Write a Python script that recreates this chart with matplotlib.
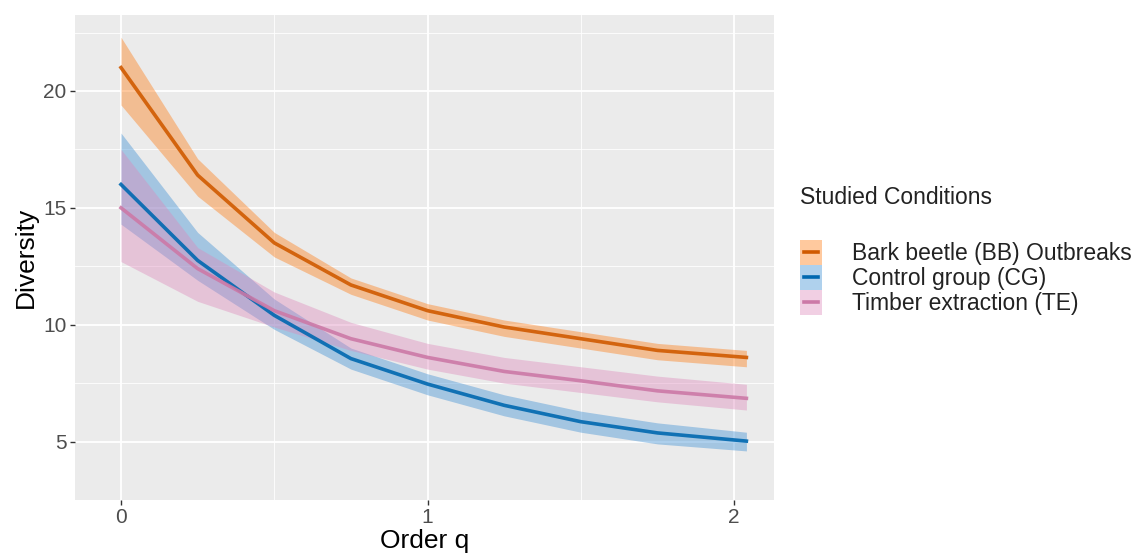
import matplotlib
matplotlib.use("Agg")
import matplotlib.pyplot as plt
from matplotlib.patches import Rectangle
from matplotlib.lines import Line2D
from matplotlib.legend_handler import HandlerBase

plt.rcParams['font.family'] = ['Liberation Sans', 'DejaVu Sans']

# ---- data ----
q = [0, 0.25, 0.5, 0.75, 1.0, 1.25, 1.5, 1.75, 2.04]

bb_mean = [21.0, 16.4, 13.5, 11.7, 10.6, 9.9, 9.4, 8.9, 8.6]
bb_low = [19.4, 15.5, 12.9, 11.3, 10.2, 9.5, 9.0, 8.5, 8.2]
bb_high = [22.3, 17.1, 13.95, 12.0, 10.9, 10.2, 9.7, 9.2, 8.9]

cg_mean = [16.0, 12.75, 10.4, 8.55, 7.46, 6.55, 5.85, 5.37, 5.02]
cg_low = [14.3, 11.9, 9.8, 8.1, 7.0, 6.1, 5.4, 4.9, 4.6]
cg_high = [18.2, 13.95, 11.1, 9.0, 7.9, 7.0, 6.3, 5.8, 5.4]

te_mean = [15.0, 12.4, 10.6, 9.4, 8.6, 8.0, 7.6, 7.17, 6.85]
te_low = [12.7, 11.0, 9.9, 8.9, 8.1, 7.5, 7.1, 6.7, 6.35]
te_high = [17.5, 13.3, 11.4, 10.1, 9.2, 8.6, 8.2, 7.8, 7.45]

labels = ["Bark beetle (BB) Outbreaks", "Control group (CG)", "Timber extraction (TE)"]
line_colors = ["#D05A00", "#0068B0", "#CC79A7"]
fill_colors = ["#FF780E", "#378CD4", "#DE87BB"]
fill_alpha = 0.4

x_ticks = [0, 1, 2]
y_ticks = [5, 10, 15, 20]


class RibbonKey:
    def __init__(self, fill, line):
        self.fill = fill
        self.line = line


class RibbonKeyHandler(HandlerBase):
    def create_artists(self, legend, orig_handle, xdescent, ydescent, width, height, fontsize, trans):
        rect = Rectangle((-xdescent, -ydescent - 1.5), width, height + 3, facecolor=orig_handle.fill,
                         alpha=fill_alpha, edgecolor='none', transform=trans)
        y = -ydescent + height / 2.0
        ln = Line2D([-xdescent + width * 0.18, -xdescent + width * 0.82], [y, y],
                    color=orig_handle.line, linewidth=2.6, transform=trans)
        return [rect, ln]


# ---- figure ----
fig = plt.figure(figsize=(11.42, 5.58), dpi=100)
ax = fig.add_axes([75 / 1142, 1 - 500 / 558, (774 - 75) / 1142, (500 - 15) / 558])
ax.set_facecolor("#EBEBEB")

series = [(bb_mean, bb_low, bb_high), (cg_mean, cg_low, cg_high), (te_mean, te_low, te_high)]
handles = []
for (m, lo, hi), fc in zip(series, fill_colors):
    ax.fill_between(q, lo, hi, color=fc, alpha=fill_alpha, linewidth=0, zorder=2)
for (m, lo, hi), lc, fc in zip(series, line_colors, fill_colors):
    ax.plot(q, m, color=lc, linewidth=2.6, alpha=0.9, zorder=3, solid_joinstyle='round')
    handles.append(RibbonKey(fc, lc))

ax.set_xlim(-0.15, 2.13)
ax.set_ylim(3.0, 23.25)
ax.set_xticks(x_ticks)
ax.set_yticks(y_ticks)
ax.set_xticks([0.5, 1.5], minor=True)
ax.set_yticks([2.5, 7.5, 12.5, 17.5, 22.5], minor=True)
ax.grid(which='major', color='white', linewidth=1.3, zorder=0)
ax.grid(which='minor', color='white', linewidth=0.6, zorder=0)
ax.set_axisbelow(True)
for s in ax.spines.values():
    s.set_visible(False)
ax.tick_params(which='major', length=3.5, color='#333333', labelcolor='#4D4D4D', labelsize=15, width=1, pad=2.5)
ax.tick_params(which='minor', length=0)

ax.set_xlabel("Order q", fontsize=19, color='black', labelpad=1)
ax.set_ylabel("Diversity", fontsize=19, color='black', labelpad=4)

leg = fig.legend(handles, labels, loc='upper left', bbox_to_anchor=(793 / 1142, 1 - 179 / 558),
                 handler_map={RibbonKey: RibbonKeyHandler()},
                 title="Studied Conditions", frameon=False, fontsize=16.5, title_fontsize=16.5,
                 labelspacing=0.08, handlelength=0.97, handleheight=1.0, handletextpad=1.3,
                 alignment='left', borderpad=0.3, borderaxespad=0)
leg.get_title().set_color('#222222')
for t in leg.get_texts():
    t.set_color('#222222')
leg._legend_box.sep = 24

fig.savefig("out.png", dpi=100, facecolor='white')
